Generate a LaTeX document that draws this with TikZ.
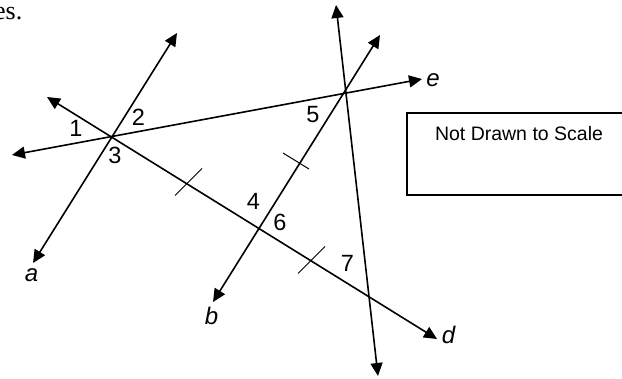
\documentclass[tikz,border=0pt]{standalone}
\usepackage{fontspec}
\setmainfont{Liberation Sans}
\newfontfamily\textserif{Liberation Serif}
\usetikzlibrary{positioning, arrows.meta}

\begin{document}
\begin{tikzpicture}[x=1pt, y=-1pt,
  dline/.style={line width=1.6pt, {Triangle[length=13pt,width=12pt]}-{Triangle[length=13pt,width=12pt]}},
  tickmark/.style={line width=1pt},
  num/.style={font=\fontsize{23.5}{28}\selectfont, inner sep=0pt},
  linename/.style={font=\fontsize{24}{28}\selectfont\itshape, inner sep=0pt, anchor=base}
]
  \useasboundingbox (0,0) rectangle (622,379);

  % end points of the lines
  \coordinate (a1) at (33,263);   \coordinate (a2) at (177,33);
  \coordinate (e1) at (12,155);   \coordinate (e2) at (422,79);
  \coordinate (d1) at (47,97);    \coordinate (d2) at (437,339);
  \coordinate (b1) at (213,302);  \coordinate (b2) at (380,35);
  \coordinate (t1) at (378,376);  \coordinate (t2) at (336,5);

  \draw[dline] (a1) -- (a2);
  \draw[dline] (e1) -- (e2);
  \draw[dline] (d1) -- (d2);
  \draw[dline] (b1) -- (b2);
  \draw[dline] (t1) -- (t2);

  % tick marks
  \foreach \x/\y in {188/182, 311/260}
    \draw[tickmark] (\x-13,\y+13.5) -- (\x+14,\y-13.5);
  \draw[tickmark] (283,153) -- (309,169);

  % angle numbers
  \foreach \n/\x/\y in {1/76/128.7, 2/138.3/117.2, 3/115/155, 5/313/115, 4/253.5/201, 6/280/222.5, 7/347.5/263}
    \node[num] (n\n) at (\x,\y) {\n};

  % line names
  \node[linename] (la) at (31.5,282) {a};
  \node[linename] (lb) at (211.5,325) {b};
  \node[linename] (ld) at (448.5,344) {d};
  \node[linename] (le) at (433,87) {e};

  % note box
  \draw[line width=1.2pt] (640,113) -- (407,113) -- (407,195) -- (640,195);
  \node[font=\fontsize{19.5}{23}\selectfont, inner sep=0pt, anchor=base] (note) at (519,140.5) {Not Drawn to Scale};

  % cut text at the top
  \node[font=\textserif\fontsize{26}{30}\selectfont, inner sep=0pt, anchor=base east] (cut) at (22.5,20) {es.};
\end{tikzpicture}
\end{document}
